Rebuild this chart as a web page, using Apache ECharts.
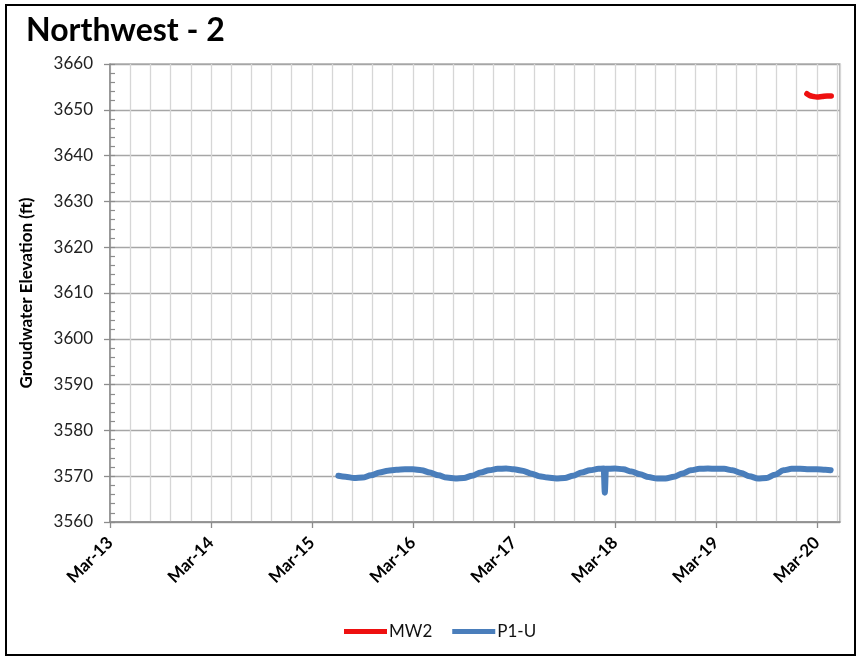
<!DOCTYPE html>
<html>
<head>
<meta charset="utf-8">
<script src="https://cdn.jsdelivr.net/npm/echarts@6/dist/echarts.min.js"></script>
<style>
  html, body { margin: 0; padding: 0; background: #fff; }
  #chart { width: 861px; height: 660px; }
</style>
</head>
<body>
<div id="chart"></div>
<script>
// Groundwater elevation readings (ft)
const mw2Dates = ['2020-01-25', '2020-02-05', '2020-02-18', '2020-03-01', '2020-03-20', '2020-04-07', '2020-04-22'];
const mw2Values = [3653.5, 3653.1, 3652.9, 3652.8, 3652.9, 3653.0, 3653.0];

const p1uDates = [
  '2015-06-05', '2015-07-01', '2015-08-01', '2015-09-01', '2015-10-01', '2015-11-01', '2015-12-01',
  '2016-01-01', '2016-02-01', '2016-03-01', '2016-04-01', '2016-05-01', '2016-06-01', '2016-07-01',
  '2016-08-01', '2016-09-01', '2016-10-01', '2016-11-01', '2016-12-01',
  '2017-01-01', '2017-02-01', '2017-03-01', '2017-04-01', '2017-05-01', '2017-06-01', '2017-07-01',
  '2017-08-01', '2017-09-01', '2017-10-01', '2017-11-01', '2017-12-01',
  '2018-01-01', '2018-01-20', '2018-01-24', '2018-01-28', '2018-03-01', '2018-04-01', '2018-05-01',
  '2018-06-01', '2018-07-01', '2018-08-01', '2018-09-01', '2018-10-01', '2018-11-01', '2018-12-01',
  '2019-01-01', '2019-02-01', '2019-03-01', '2019-04-01', '2019-05-01', '2019-06-01', '2019-07-01',
  '2019-08-01', '2019-09-01', '2019-10-01', '2019-11-01', '2019-12-01',
  '2020-01-01', '2020-02-01', '2020-03-01', '2020-04-01', '2020-04-20'
];
const p1uValues = [
  3570.1, 3569.9, 3569.6, 3569.7, 3570.2, 3570.8, 3571.2,
  3571.4, 3571.5, 3571.5, 3571.3, 3570.8, 3570.2, 3569.7,
  3569.5, 3569.6, 3570.1, 3570.8, 3571.3,
  3571.6, 3571.7, 3571.5, 3571.2, 3570.6, 3570.0, 3569.7,
  3569.5, 3569.6, 3570.1, 3570.8, 3571.3,
  3571.6, 3571.7, 3566.4, 3571.6, 3571.7, 3571.5, 3571.0,
  3570.4, 3569.8, 3569.5, 3569.5, 3569.9, 3570.6, 3571.3,
  3571.6, 3571.7, 3571.6, 3571.6, 3571.3, 3570.7, 3570.0,
  3569.5, 3569.6, 3570.3, 3571.3, 3571.6,
  3571.6, 3571.5, 3571.5, 3571.4, 3571.3
];

// Axis settings: x measured in years from Mar 2013
const yearLabels = ['Mar-13', 'Mar-14', 'Mar-15', 'Mar-16', 'Mar-17', 'Mar-18', 'Mar-19', 'Mar-20'];
const xMax = 7.23;
const yMin = 3560, yMax = 3660;

const origin = Date.UTC(2013, 2, 1);
function toYears(s) {
  const p = s.split('-').map(Number);
  return (Date.UTC(p[0], p[1] - 1, p[2]) - origin) / (365.25 * 86400000);
}
function pairs(dates, values) {
  return dates.map((d, i) => [toYears(d), values[i]]);
}

const FONT = 'Lato, "Open Sans", sans-serif';
const majorIdx = yearLabels.map((_, i) => i);

const chart = echarts.init(document.getElementById('chart'), null, { renderer: 'canvas' });
chart.setOption({
  animation: false,
  backgroundColor: '#fff',
  title: {
    text: 'Northwest - 2',
    left: 21, top: 10,
    textStyle: { fontFamily: FONT, fontWeight: 'bold', fontSize: 32, color: '#000' }
  },
  legend: {
    bottom: 15, left: 339,
    icon: 'rect', itemWidth: 43, itemHeight: 5, itemGap: 20,
    textStyle: { fontFamily: FONT, fontSize: 17, color: '#111', padding: [0, 0, 0, -3] },
    data: ['MW2', 'P1-U']
  },
  grid: {
    left: 110, right: 21, top: 64, bottom: 138,
    show: true, borderColor: '#8c8c8c', borderWidth: 1.2
  },
  xAxis: [
    {
      type: 'value', min: 0, max: xMax, interval: 1,
      axisLine: { lineStyle: { color: '#8c8c8c', width: 1.5 } },
      axisTick: { length: 6, lineStyle: { color: '#8c8c8c', width: 1.3 }, customValues: majorIdx },
      axisLabel: {
        customValues: majorIdx,
        rotate: 45, margin: 18,
        fontFamily: FONT, fontWeight: 'bold', fontSize: 17, color: '#000',
        formatter: v => yearLabels[Math.round(v)] || ''
      },
      splitLine: { show: false }
    },
    {
      type: 'value', min: 0, max: xMax, interval: 0.2, position: 'bottom',
      axisLine: { show: false }, axisTick: { show: false }, axisLabel: { show: false },
      splitLine: { show: true, lineStyle: { color: '#d6d6d6', width: 1.3 } }
    }
  ],
  yAxis: [
    {
      type: 'value', min: yMin, max: yMax, interval: 10,
      name: 'Groudwater Elevation (ft)', nameLocation: 'middle', nameGap: 75,
      nameTextStyle: { fontFamily: FONT, fontWeight: 'bold', fontSize: 17, color: '#000' },
      axisLine: { show: true, lineStyle: { color: '#8c8c8c', width: 1.5 } },
      axisTick: { show: true, length: 6, lineStyle: { color: '#8c8c8c', width: 1.3 } },
      axisLabel: {
        margin: 17, fontFamily: FONT, fontSize: 17, color: '#222',
        formatter: v => String(v)
      },
      splitLine: { show: true, lineStyle: { color: '#a6a6a6', width: 1.3 } }
    },
    {
      type: 'value', min: yMin, max: yMax, interval: 2, position: 'left',
      axisLine: { show: false },
      axisTick: { show: true, inside: true, length: 5, lineStyle: { color: '#8c8c8c', width: 1.2 } },
      axisLabel: { show: false },
      splitLine: { show: false }
    }
  ],
  series: [
    {
      name: 'MW2', type: 'line', xAxisIndex: 0, yAxisIndex: 0,
      data: pairs(mw2Dates, mw2Values),
      showSymbol: false, smooth: 0.4,
      lineStyle: { color: '#ee1010', width: 5.5, cap: 'round', join: 'round' },
      itemStyle: { color: '#ee1010' }, z: 3
    },
    {
      name: 'P1-U', type: 'line', xAxisIndex: 0, yAxisIndex: 0,
      data: pairs(p1uDates, p1uValues),
      showSymbol: false, smooth: 0.3, smoothMonotone: 'x',
      lineStyle: { color: '#4a7ebb', width: 6, cap: 'round', join: 'round' },
      itemStyle: { color: '#4a7ebb' }, z: 2
    }
  ],
  graphic: [
    {
      type: 'rect', silent: true, z: 100,
      shape: { x: 6, y: 5, width: 849, height: 650 },
      style: { fill: 'none', stroke: '#000', lineWidth: 2 }
    }
  ]
});
</script>
</body>
</html>
